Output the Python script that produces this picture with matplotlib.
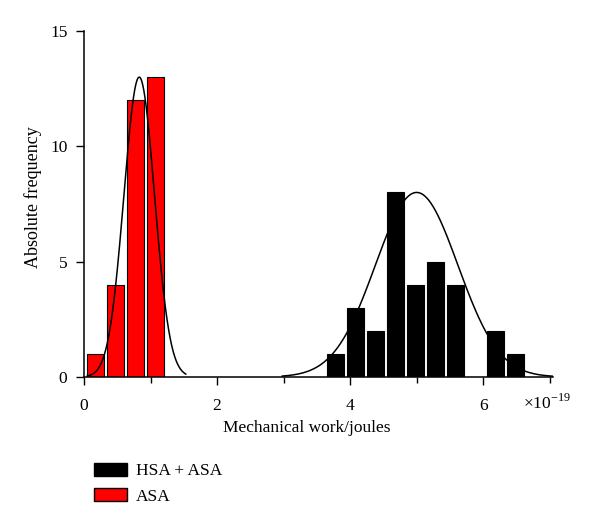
import numpy as np
import matplotlib
matplotlib.use("Agg")
import matplotlib.pyplot as plt
from matplotlib.patches import Patch
from matplotlib.ticker import MultipleLocator

plt.rcParams['font.family'] = ['Liberation Serif', 'DejaVu Serif']
plt.rcParams['mathtext.fontset'] = 'custom'
plt.rcParams['mathtext.rm'] = 'Liberation Serif'

# Data (x in units of 1e-19 J)
asa_centers = [0.18, 0.48, 0.78, 1.08]
asa_counts = [1, 4, 12, 13]
hsa_centers = [3.78, 4.08, 4.38, 4.68, 4.98, 5.28, 5.58, 5.88, 6.18, 6.48]
hsa_counts = [1, 3, 2, 8, 4, 5, 4, 0, 2, 1]

# Fitted normal curves (mean, sigma, peak height, x-range)
asa_fit = dict(mean=0.83, sigma=0.23, peak=13.0, lo=0.05, hi=1.53)
hsa_fit = dict(mean=5.0, sigma=0.62, peak=8.0, lo=2.98, hi=7.05)

yticks = [0, 5, 10, 15]
xticks = [0, 2, 4, 6]

FS = 12.5
fig = plt.figure(figsize=(6.0, 5.26), dpi=100)
ax = fig.add_axes([0.14, 0.2833, 0.7817, 0.6578])

bw = 0.255
ax.bar(asa_centers, asa_counts, width=bw, color='#ff0000', edgecolor='black', linewidth=0.8, zorder=2)
ax.bar(hsa_centers, hsa_counts, width=bw, color='black', edgecolor='black', linewidth=0.8, zorder=2)

for f in (asa_fit, hsa_fit):
    xs = np.linspace(f['lo'], f['hi'], 400)
    ys = f['peak'] * np.exp(-(xs - f['mean']) ** 2 / (2 * f['sigma'] ** 2))
    ax.plot(xs, ys, color='black', linewidth=1.1, zorder=3)

ax.set_xlim(0, 7.05)
ax.set_ylim(0, 15)
ax.set_xticks(xticks)
ax.xaxis.set_minor_locator(MultipleLocator(1))
ax.set_yticks(yticks)
for s in ('top', 'right'):
    ax.spines[s].set_visible(False)
for s in ('left', 'bottom'):
    ax.spines[s].set_linewidth(1.1)
ax.tick_params(axis='both', which='major', direction='out', length=6, width=1.0, labelsize=FS)
ax.tick_params(axis='x', which='major', pad=9)
ax.tick_params(axis='y', which='major', pad=6)
ax.tick_params(axis='x', which='minor', direction='out', length=4, width=1.0)

ax.set_xlabel('Mechanical work/joules', fontsize=FS)
ax.xaxis.set_label_coords((307 - 84) / 469, -0.125)
ax.set_ylabel('Absolute frequency', fontsize=13)
ax.yaxis.set_label_coords(-0.09, 0.52)

fig.text(523 / 600, 1 - 409 / 526, r'$\times10^{-19}$', fontsize=FS, ha='left', va='baseline')

handles = [Patch(facecolor='black', edgecolor='black'),
           Patch(facecolor='#ff0000', edgecolor='black')]
fig.legend(handles, ['HSA + ASA', 'ASA'], loc='upper left',
           bbox_to_anchor=(94 / 600, 1 - 463 / 526), frameon=False,
           fontsize=FS, handlelength=1.88, handleheight=0.75,
           handletextpad=0.55, labelspacing=0.5, borderpad=0, borderaxespad=0)

fig.savefig('out.png', dpi=100)
